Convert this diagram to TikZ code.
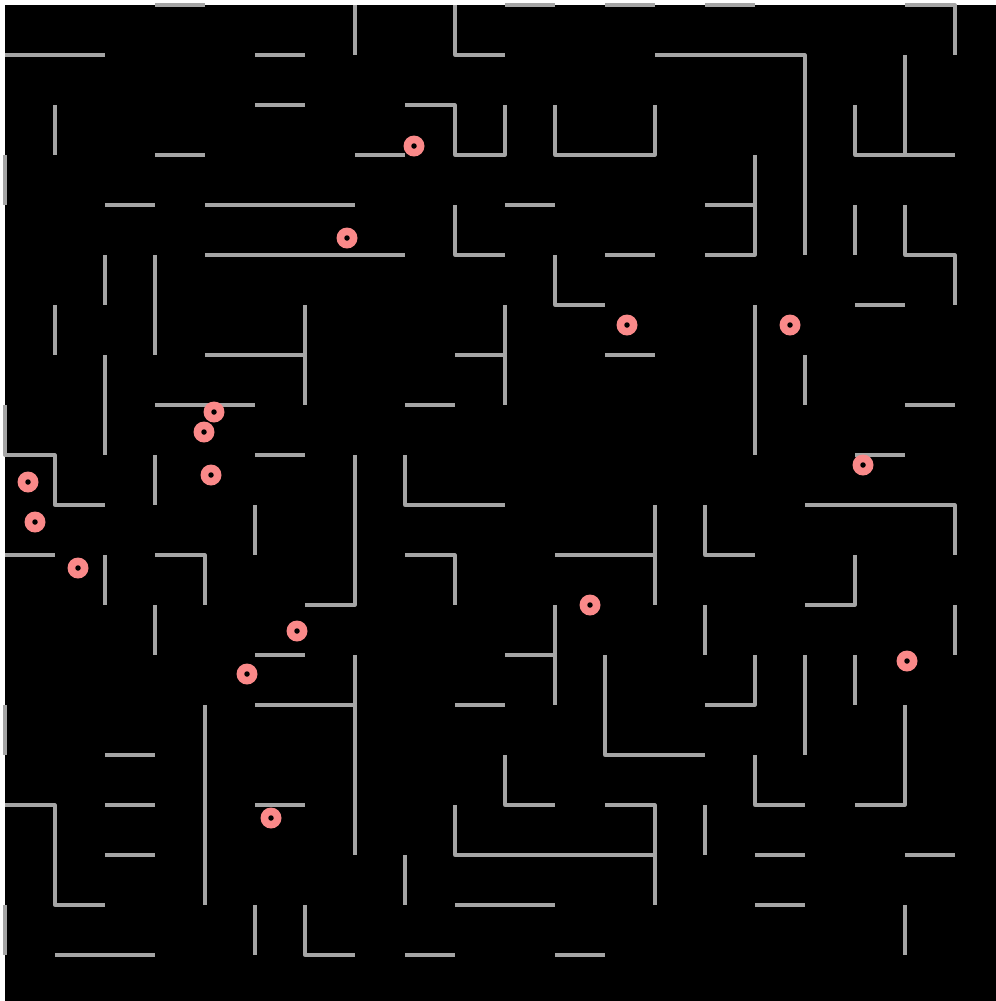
\documentclass[tikz,border=0pt]{standalone}
\usepackage{tikz}
\usepackage{xcolor}
\usetikzlibrary{calc,backgrounds}
\definecolor{WallGray}{RGB}{165,165,165}
\definecolor{PelletPink}{RGB}{250,137,137}
\tikzset{
  wall/.style={draw=WallGray,line width=0.065cm,line join=round},
  pellet/.style={circle,fill=PelletPink,minimum size=0.42cm,inner sep=0pt,
                 path picture={\fill[black] (path picture bounding box.center) circle (0.055cm);}},
}

\begin{document}
\begin{tikzpicture}[x=1cm,y=-1cm]
        \useasboundingbox (-0.1,-0.1) rectangle (19.82,19.92);
        \fill[white] (-0.1,-0.1) rectangle (19.82,19.92);
        \fill[black] (0,0) rectangle (19.82,19.92);
        % rows 0-3
        \draw[wall] (3,0)--(4,0) (10,0)--(11,0) (12,0)--(13,0) (14,0)--(15,0) (18,0)--(19,0)--(19,1);
        \draw[wall] (7,0)--(7,1) (9,0)--(9,1)--(10,1) (0,1)--(2,1) (5,1)--(6,1) (13,1)--(16,1)--(16,5);
        \draw[wall] (5,2)--(6,2) (1,2)--(1,3) (8,2)--(9,2)--(9,3)--(10,3)--(10,2) (11,2)--(11,3)--(13,3)--(13,2);
        \draw[wall] (18,1)--(18,3) (17,2)--(17,3)--(19,3) (3,3)--(4,3) (7,3)--(8,3) (0,3)--(0,4);
        % rows 4-7
        \draw[wall] (2,4)--(3,4) (4,4)--(7,4) (9,4)--(9,5)--(10,5) (10,4)--(11,4) (14,4)--(15,4);
        \draw[wall] (14,5)--(15,5)--(15,3) (17,4)--(17,5) (18,4)--(18,5)--(19,5)--(19,6);
        \draw[wall] (4,5)--(8,5) (12,5)--(13,5) (11,5)--(11,6)--(12,6) (2,5)--(2,6) (3,5)--(3,7);
        \draw[wall] (1,6)--(1,7) (6,6)--(6,8) (4,7)--(6,7) (10,6)--(10,8) (9,7)--(10,7) (17,6)--(18,6) (15,6)--(15,9);
        \draw[wall] (12,7)--(13,7) (16,7)--(16,8) (2,7)--(2,9);
        % rows 8-11
        \draw[wall] (3,8)--(5,8) (8,8)--(9,8) (18,8)--(19,8) (0,8)--(0,9)--(1,9)--(1,10)--(2,10);
        \draw[wall] (5,9)--(6,9) (3,9)--(3,10) (6,12)--(7,12)--(7,9) (8,9)--(8,10)--(10,10) (17,9)--(18,9);
        \draw[wall] (5,10)--(5,11) (16,10)--(19,10)--(19,11) (14,10)--(14,11)--(15,11) (13,10)--(13,12) (11,11)--(13,11);
        \draw[wall] (0,11)--(1,11) (2,11)--(2,12) (3,11)--(4,11)--(4,12) (8,11)--(9,11)--(9,12) (16,12)--(17,12)--(17,11);
        % rows 12-15
        \draw[wall] (3,12)--(3,13) (11,12)--(11,14) (14,12)--(14,13) (19,12)--(19,13);
        \draw[wall] (5,13)--(6,13) (10,13)--(11,13) (7,13)--(7,17) (12,13)--(12,15)--(14,15);
        \draw[wall] (14,14)--(15,14)--(15,13) (16,13)--(16,15) (17,13)--(17,14);
        \draw[wall] (5,14)--(7,14) (0,14)--(0,15) (4,14)--(4,18) (9,14)--(10,14) (17,16)--(18,16)--(18,14);
        \draw[wall] (2,15)--(3,15) (10,15)--(10,16)--(11,16) (15,15)--(15,16)--(16,16);
        % rows 16-19
        \draw[wall] (0,16)--(1,16)--(1,18)--(2,18) (2,16)--(3,16) (5,16)--(6,16) (12,16)--(13,16)--(13,18);
        \draw[wall] (9,16)--(9,17)--(13,17) (14,16)--(14,17) (2,17)--(3,17) (8,17)--(8,18) (15,17)--(16,17) (18,17)--(19,17);
        \draw[wall] (9,18)--(11,18) (15,18)--(16,18) (18,18)--(18,19) (0,18)--(0,19) (5,18)--(5,19) (6,18)--(6,19)--(7,19);
        \draw[wall] (1,19)--(3,19) (8,19)--(9,19) (11,19)--(12,19);
        % pellets
        \foreach \px/\py [count=\k] in {8.18/2.82, 6.84/4.66, 12.44/6.40, 15.70/6.40,
            4.18/8.14, 3.98/8.54, 4.12/9.40, 0.46/9.54, 0.60/10.34, 1.46/11.26,
            17.16/9.20, 11.70/12.00, 5.84/12.52, 18.04/13.12, 4.84/13.38, 5.32/16.26}
          \node[pellet] (p\k) at (\px,\py) {};
      \end{tikzpicture}
\end{document}
